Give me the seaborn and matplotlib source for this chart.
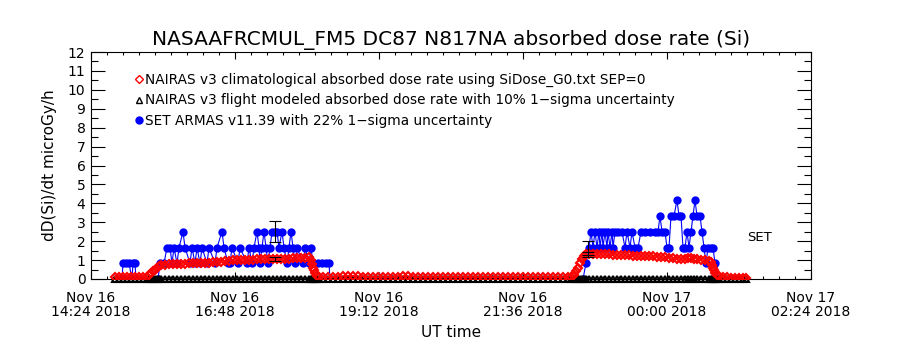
import matplotlib
matplotlib.use("Agg")
import matplotlib.pyplot as plt
from matplotlib.lines import Line2D
from matplotlib.ticker import FixedLocator, MultipleLocator
import seaborn as sns

# time axis: minutes after Nov 16 14:24 UT
tick_minutes = [0, 144, 288, 432, 576, 720]
tick_labels = ["Nov 16\n14:24 2018", "Nov 16\n16:48 2018", "Nov 16\n19:12 2018",
               "Nov 16\n21:36 2018", "Nov 17\n00:00 2018", "Nov 17\n02:24 2018"]

# NAIRAS v3 climatological absorbed dose rate (red diamonds)
clim_minutes = [24, 28, 32, 36, 40, 44, 48, 52, 56,
                58, 60, 62, 64, 66, 68, 70,
                74, 78, 82, 86, 90, 94, 98, 102, 106, 110, 114, 118, 122, 126,
                130, 134, 138, 142, 146, 150, 154, 158, 162, 166, 170, 174, 178,
                182, 186, 190, 194, 198, 202, 206, 210, 214, 218,
                220, 221, 222, 223, 224, 226, 228,
                232, 237, 242, 247, 252, 257, 262, 267, 272, 277, 282, 287, 292,
                297, 302, 307, 312, 317, 322, 327, 332, 337, 342, 347, 352, 357,
                362, 367, 372, 377, 382, 387, 392, 397, 402, 407, 412, 417, 422,
                427, 432, 437, 442, 447, 452, 457, 462, 467, 472, 477,
                480, 483, 485, 487, 489, 491, 493, 495,
                498, 502, 506, 510, 514, 518, 522, 526, 530, 534, 538, 542, 546,
                550, 554, 558, 562, 566, 570, 574, 578, 582, 586, 590, 594, 597,
                600, 603, 606, 610, 614, 618,
                620, 621, 622, 623, 624, 626, 628,
                632, 636, 640, 644, 648, 652, 655]
clim_rate = [0.1, 0.1, 0.1, 0.1, 0.1, 0.1, 0.1, 0.1, 0.12,
             0.2, 0.3, 0.4, 0.5, 0.6, 0.68, 0.74,
             0.76, 0.77, 0.78, 0.79, 0.8, 0.81, 0.82, 0.83, 0.84, 0.85, 0.86, 0.87, 0.89, 0.9,
             0.92, 0.94, 0.96, 0.98, 0.99, 1.0, 1.01, 1.02, 1.03, 1.04, 1.04, 1.05, 1.05,
             1.06, 1.07, 1.07, 1.08, 1.08, 1.09, 1.1, 1.11, 1.13, 1.15,
             1.0, 0.8, 0.6, 0.45, 0.3, 0.18, 0.12,
             0.1, 0.1, 0.09, 0.09, 0.15, 0.16, 0.15, 0.14, 0.09, 0.08, 0.08, 0.08, 0.08,
             0.08, 0.08, 0.08, 0.14, 0.14, 0.08, 0.08, 0.08, 0.08, 0.08, 0.08, 0.08, 0.08,
             0.08, 0.08, 0.08, 0.13, 0.13, 0.13, 0.13, 0.08, 0.08, 0.08, 0.08, 0.08, 0.08,
             0.08, 0.08, 0.08, 0.08, 0.08, 0.08, 0.08, 0.08, 0.08, 0.08, 0.09,
             0.1, 0.2, 0.4, 0.6, 0.85, 1.05, 1.2, 1.3,
             1.34, 1.33, 1.32, 1.31, 1.3, 1.3, 1.29, 1.28, 1.27, 1.26, 1.25, 1.24, 1.23,
             1.22, 1.21, 1.2, 1.19, 1.18, 1.16, 1.14, 1.12, 1.1, 1.08, 1.06, 1.05, 1.12,
             1.1, 1.06, 1.04, 1.02, 1.0, 0.97,
             0.9, 0.75, 0.6, 0.45, 0.32, 0.2, 0.14,
             0.1, 0.08, 0.07, 0.06, 0.06, 0.05, 0.05]

# NAIRAS v3 flight modeled dose rate (black triangles) - sits on zero
model_rate = [0.0] * len(clim_minutes)

# SET ARMAS v11.39 (blue)
set_minutes = [26, 31, 32, 35, 38, 41, 42, 44, 45, 60, 67, 69, 73,
               76, 79, 81, 83, 86, 88, 92, 94, 99, 101, 104, 106, 109, 111,
               116, 118, 124, 126, 131, 133, 137, 139, 141, 147, 149, 156, 158,
               161, 163, 166, 168, 169, 171, 173, 175, 177, 179, 181, 184, 186,
               188, 191, 193, 196, 198, 200, 202, 204, 206, 212, 214, 218, 220,
               222, 227, 231, 235, 238, 239, 300, 400,
               492, 495, 498, 500, 502, 504, 506, 508, 509, 511, 512, 514, 516,
               517, 519, 521, 522, 524, 527, 531, 534, 536, 539, 541, 544, 547,
               550, 554, 559, 564, 567, 569, 571, 574, 576, 578, 580, 583, 586,
               588, 590, 592, 594, 596, 598, 600, 602, 604, 606, 609, 611, 613,
               615, 617, 620, 622, 624, 626, 640]
set_rate = [0, 0, 0.83, 0.83, 0.83, 0, 0.83, 0.83, 0, 0, 0, 0.83, 0.83,
            1.66, 1.66, 0.83, 1.66, 0.83, 1.66, 2.5, 1.66, 0.83, 1.66, 0.83, 1.66, 0.83, 1.66,
            0.83, 1.66, 0.83, 1.66, 2.5, 1.66, 0.83, 0.83, 1.66, 0.83, 1.66, 0.83, 1.66,
            0.83, 1.66, 2.5, 1.66, 0.83, 1.66, 2.5, 1.66, 0.83, 1.66, 2.5, 2.5, 2.5,
            1.66, 2.5, 1.66, 0.83, 1.66, 2.5, 1.66, 0.83, 1.66, 0.83, 1.66, 0.83, 1.66,
            0.83, 0.83, 0.83, 0.83, 0.83, 0, 0, 0,
            0, 0.83, 1.66, 2.5, 1.66, 2.5, 1.66, 2.5, 1.66, 2.5, 1.66, 2.5, 1.66,
            2.5, 1.66, 2.5, 1.66, 2.5, 2.5, 2.5, 1.66, 2.5, 1.66, 2.5, 1.66, 1.66,
            2.5, 2.5, 2.5, 2.5, 2.5, 3.33, 2.5, 2.5, 1.66, 1.66, 3.33, 3.33, 4.17,
            3.33, 3.33, 1.66, 1.66, 2.5, 1.66, 2.5, 3.33, 4.17, 3.33, 3.33, 2.5, 1.66,
            0.83, 1.66, 1.66, 1.66, 0.83, 0, 0]

# 1-sigma error bars (SET 22 %, model 10 %)
err_minutes = [184, 184, 497, 497]
err_center = [2.5, 1.07, 1.66, 1.3]
err_frac = [0.22, 0.10, 0.22, 0.10]

assert len(clim_minutes) == len(clim_rate)
assert len(set_minutes) == len(set_rate)

sns.set_style("ticks")
plt.rcParams["font.family"] = ["DejaVu Sans"]
plt.rcParams["text.color"] = "black"
plt.rcParams["axes.labelcolor"] = "black"

fig = plt.figure(figsize=(9, 3.5), dpi=100)
ax = fig.add_axes([91 / 900, 71 / 350, 720 / 900, 227 / 350])

sns.lineplot(x=set_minutes, y=set_rate, ax=ax, color="blue", linewidth=0.8,
             marker="o", markersize=6, markeredgecolor="blue", markeredgewidth=0,
             estimator=None, sort=False, zorder=2)
sns.lineplot(x=clim_minutes, y=model_rate, ax=ax, color="black", linestyle="none",
             marker="^", markersize=5, markerfacecolor="none", markeredgecolor="black",
             markeredgewidth=1.5, estimator=None, sort=False, zorder=3, clip_on=False)
sns.lineplot(x=clim_minutes, y=clim_rate, ax=ax, color="red", linestyle="none",
             marker="D", markersize=4.5, markerfacecolor="none", markeredgecolor="red",
             markeredgewidth=1.5, estimator=None, sort=False, zorder=4)
ax.errorbar(err_minutes, err_center, yerr=[c * f for c, f in zip(err_center, err_frac)],
            fmt="none", ecolor="black", elinewidth=0.8, capsize=4, capthick=0.8, zorder=5)

ax.set_xlim(0, 720)
ax.set_ylim(0, 12)
ax.xaxis.set_major_locator(FixedLocator(tick_minutes))
ax.set_xticklabels(tick_labels)
ax.xaxis.set_minor_locator(MultipleLocator(16))
ax.yaxis.set_major_locator(MultipleLocator(1))
ax.yaxis.set_minor_locator(MultipleLocator(0.5))

ax.tick_params(which="both", direction="in", top=True, right=True, width=0.8, colors="black")
ax.tick_params(axis="x", which="major", length=5, pad=9, labelsize=10)
ax.tick_params(axis="x", which="minor", length=2.5)
ax.tick_params(axis="y", which="major", length=10, pad=4, labelsize=10)
ax.tick_params(axis="y", which="minor", length=5)
for lab in ax.get_xticklabels():
    lab.set_linespacing(0.95)
for sp in ax.spines.values():
    sp.set_linewidth(0.8)
    sp.set_color("black")

ax.set_title("NASAAFRCMUL_FM5 DC87 N817NA absorbed dose rate (Si)", fontsize=14.5, pad=5)
ax.set_xlabel("UT time", fontsize=11, labelpad=4)
ax.set_ylabel("dD(Si)/dt microGy/h", fontsize=11, labelpad=8)

handles = [
    Line2D([], [], linestyle="none", marker="D", markersize=4, markerfacecolor="none",
           markeredgecolor="red", markeredgewidth=1),
    Line2D([], [], linestyle="none", marker="^", markersize=5, markerfacecolor="none",
           markeredgecolor="black", markeredgewidth=1),
    Line2D([], [], linestyle="none", marker="o", markersize=5, color="blue"),
]
labels = ["NAIRAS v3 climatological absorbed dose rate using SiDose_G0.txt SEP=0",
          "NAIRAS v3 flight modeled absorbed dose rate with 10% 1\u2212sigma uncertainty",
          "SET ARMAS v11.39 with 22% 1\u2212sigma uncertainty"]
ax.legend(handles, labels, loc="upper left", bbox_to_anchor=(0.062, 0.907),
          frameon=False, fontsize=9.8, handlelength=0.5, handletextpad=0.2,
          labelspacing=0.45, borderpad=0, borderaxespad=0)

ax.text(0.929, 0.185, "SET", transform=ax.transAxes, fontsize=9.5, ha="center", va="center")

fig.savefig("out.png", dpi=100)
